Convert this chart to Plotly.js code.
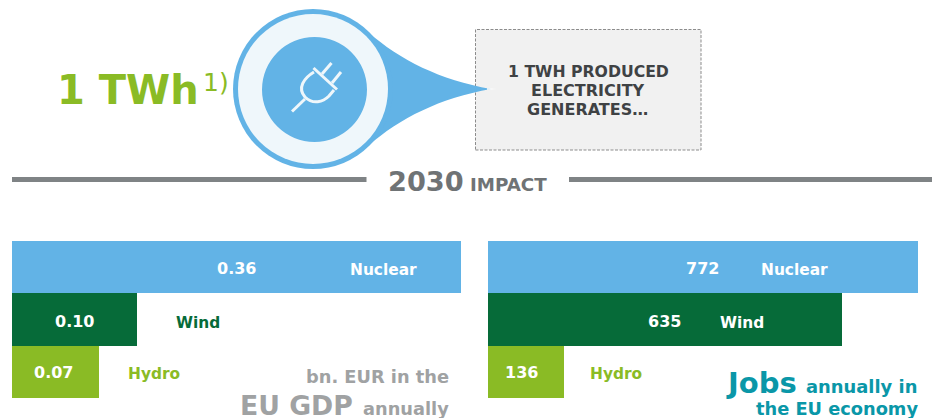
<!DOCTYPE html>
<html>
<head>
<meta charset="utf-8">
<script src="https://cdn.plot.ly/plotly-3.0.1.min.js"></script>
<style>html,body{margin:0;padding:0;background:#fff}#chart{width:932px;height:418px}</style>
</head>
<body>
<div id="chart"></div>
<script>
const categories = ["Nuclear", "Wind", "Hydro"];
const gdpValues = [0.36, 0.10, 0.07];
const jobValues = [772, 635, 136];
const barColors = ["#62b3e6", "#066b39", "#8abb25"];

const W = 932, H = 418;
const FONT = "DejaVu Sans";
const BLUE = "#62b3e6", PALE = "#eff7fb", LIME = "#8abb25", GREY = "#a0a2a3", TEAL = "#0a97a8", RULE = "#7f8385";
const px = x => x / W;
const py = y => 1 - y / H;

function bold(t) { return "<b>" + t + "</b>"; }
// text placed by pixel position and baseline
function label(text, x, base, size, color, anchor) {
  return {
    text: text, xref: "paper", yref: "paper", showarrow: false,
    x: px(x), y: py(base - 0.346 * size), xanchor: anchor || "left", yanchor: "middle",
    borderpad: 0, font: { family: FONT, size: size, color: color }
  };
}
// value label tied to the bar scale
function valueLabel(text, value, i, axis, dx, dy) {
  return {
    text: bold(text), xref: "x" + axis, yref: "y" + axis, x: value / 2, y: categories[i],
    xshift: dx, yshift: dy, showarrow: false, xanchor: "center", yanchor: "middle", borderpad: 0,
    font: { family: FONT, size: 16, color: "#ffffff" }
  };
}
function pathOf(cmds) {
  return cmds.map(c => c[0] + (c.length > 1 ? c.slice(1).map((v, i) => (i % 2 ? py(v) : px(v))).join(",") : "")).join(" ");
}
function paperShape(extra) { return Object.assign({ xref: "paper", yref: "paper", layer: "above" }, extra); }
function circle(cx, cy, r, color) {
  return paperShape({ type: "circle", x0: px(cx - r), x1: px(cx + r), y0: py(cy + r), y1: py(cy - r), fillcolor: color, line: { width: 0 } });
}
function stroke(cmds, w) {
  return paperShape({ type: "path", path: pathOf(cmds), line: { color: PALE, width: w }, fillcolor: "rgba(0,0,0,0)" });
}

const shapes = [
  paperShape({ type: "rect", x0: px(12), x1: px(366.5), y0: py(182), y1: py(177), fillcolor: RULE, line: { width: 0 } }),
  paperShape({ type: "rect", x0: px(569), x1: px(932), y0: py(182), y1: py(177), fillcolor: RULE, line: { width: 0 } }),
  paperShape({ type: "rect", x0: px(475.5), x1: px(701), y0: py(150), y1: py(29.5), fillcolor: "#f1f1f1", line: { color: "#8c8c8c", width: 1, dash: "3px,1.5px" } }),
  paperShape({ type: "path", path: pathOf([["M", 368, 32], ["C", 400, 60, 440, 80, 491, 89], ["C", 440, 98, 400, 118, 368, 146], ["Z"]]), fillcolor: BLUE, line: { width: 0 } }),
  paperShape({ type: "path", path: pathOf([["M", 487, 88.2], ["L", 497, 89], ["L", 487, 89.8], ["Z"]]), fillcolor: "#ffffff", line: { width: 0 } }),
  circle(313, 89, 80, BLUE),
  circle(313, 89, 75, PALE),
  circle(314.5, 89.5, 52.5, BLUE),
  stroke([["M", 292, 111.5], ["L", 305, 99]], 3),
  stroke([["M", 322, 74], ["L", 331.5, 63]], 3),
  stroke([["M", 332, 83], ["L", 341, 72]], 3),
  stroke([["M", 313.5, 68], ["L", 337, 89.5]], 3),
  stroke([["M", 314, 72], ["C", 304, 78, 297, 88, 305, 97], ["C", 313, 105, 323, 102, 329, 96], ["L", 334, 90]], 3)
];

const annotations = [
  label(bold("1 TWh"), 55.5, 104, 40, LIME),
  label("1)", 201.5, 91.5, 25, LIME),
  label(bold("1 TWH PRODUCED"), 588, 76.7, 15.7, "#3f4244", "center"),
  label(bold("ELECTRICITY"), 588, 96, 16, "#3f4244", "center"),
  label(bold("GENERATES…"), 587.5, 115, 16, "#3f4244", "center"),
  label(bold("2030"), 387, 190.5, 27.2, "#6f7375"),
  label(bold("IMPACT"), 469, 190.5, 18.3, "#6f7375"),
  valueLabel(gdpValues[0].toFixed(2), gdpValues[0], 0, "", 0, -1),
  valueLabel(gdpValues[1].toFixed(2), gdpValues[1], 1, "", 0, -1.5),
  valueLabel(gdpValues[2].toFixed(2), gdpValues[2], 2, "", -2.5, -1),
  valueLabel(String(jobValues[0]), jobValues[0], 0, "2", -0.5, -1.5),
  valueLabel(String(jobValues[1]), jobValues[1], 1, "2", 0, -1.5),
  valueLabel(String(jobValues[2]), jobValues[2], 2, "2", -4, -1),
  label(bold(categories[0]), 348.5, 275.5, 15.4, "#ffffff"),
  label(bold(categories[1]), 175, 328.5, 15.4, barColors[1]),
  label(bold(categories[2]), 127, 379, 15.4, barColors[2]),
  label(bold(categories[0]), 760, 275.5, 15.4, "#ffffff"),
  label(bold(categories[1]), 719, 328.5, 15.4, "#ffffff"),
  label(bold(categories[2]), 589, 379, 15.4, barColors[2]),
  label(bold("bn. EUR in the"), 450, 383, 17.8, GREY, "right"),
  label(bold("EU GDP"), 239, 415, 26.7, GREY),
  label(bold("annually"), 450, 415, 17.8, GREY, "right"),
  label(bold("Jobs"), 725, 393, 29, TEAL),
  label(bold("annually in"), 918, 393, 17.9, TEAL, "right"),
  label(bold("the EU economy"), 919, 415, 17.8, TEAL, "right")
];

function bars(values, xa, ya) {
  return { type: "bar", orientation: "h", x: values, y: categories, xaxis: xa, yaxis: ya,
           marker: { color: barColors, line: { width: 0 } }, hoverinfo: "skip", showlegend: false };
}
const hiddenX = (l, r, max) => ({ domain: [px(l), px(r)], range: [0, max], visible: false, fixedrange: true });
const hiddenY = (anchor) => ({ domain: [py(398), py(241)], type: "category", categoryorder: "array", categoryarray: categories,
                               range: [2.5, -0.5], visible: false, anchor: anchor, fixedrange: true });

Plotly.newPlot("chart", [bars(gdpValues, "x", "y"), bars(jobValues, "x2", "y2")], {
  width: W, height: H, margin: { l: 0, r: 0, t: 0, b: 0 },
  paper_bgcolor: "#ffffff", plot_bgcolor: "rgba(0,0,0,0)", bargap: 0,
  xaxis: hiddenX(12, 461, gdpValues[0]), yaxis: hiddenY("x"),
  xaxis2: Object.assign(hiddenX(488, 918, jobValues[0]), { anchor: "y2" }), yaxis2: hiddenY("x2"),
  shapes: shapes, annotations: annotations, showlegend: false
}, { displayModeBar: false, staticPlot: true });
</script>
</body>
</html>
